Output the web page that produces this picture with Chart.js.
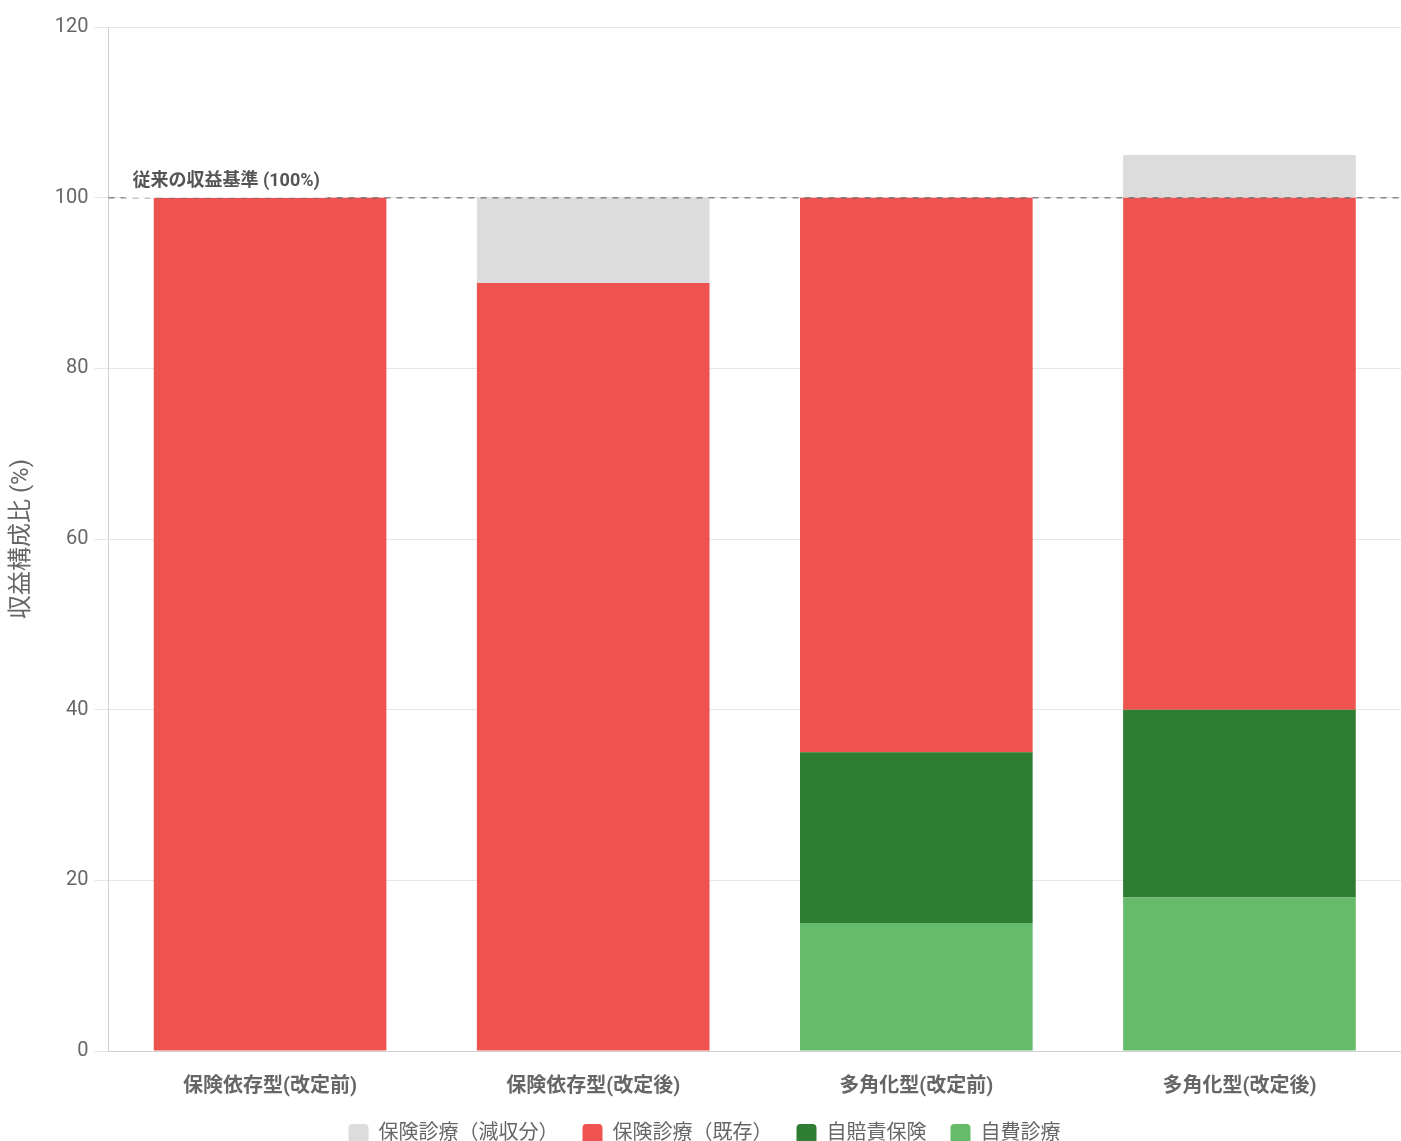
<!DOCTYPE html>
<html>
<head>
<meta charset="utf-8">
<script src="https://cdn.jsdelivr.net/npm/chart.js@4/dist/chart.umd.min.js"></script>
<style>
  html, body { margin: 0; padding: 0; background: #fff; }
  #wrap { width: 1401px; height: 1141px; }
</style>
</head>
<body>
<div id="wrap"><canvas id="revChart"></canvas></div>
<script>
const categories = ['保険依存型(改定前)', '保険依存型(改定後)', '多角化型(改定前)', '多角化型(改定後)'];
const selfPay = [0, 0, 15, 18];        // 自費診療
const autoInsurance = [0, 0, 20, 22];  // 自賠責保険
const insuranceBase = [100, 90, 65, 60]; // 保険診療（既存）
const insuranceLoss = [0, 10, 0, 5];   // 保険診療（減収分）
const yTicks = [0, 20, 40, 60, 80, 100, 120];
const baseline = 100;
const baselineLabel = '従来の収益基準 (100%)';

const FONT = "Roboto, 'Noto Sans CJK JP', sans-serif";

// dashed reference line + label
const baselinePlugin = {
  id: 'baseline',
  afterDatasetsDraw(chart) {
    const { ctx, chartArea } = chart;
    const y = chart.scales.y.getPixelForValue(baseline);
    ctx.save();
    ctx.strokeStyle = 'rgba(110,110,110,0.8)';
    ctx.lineWidth = 1.5;
    ctx.setLineDash([6, 6]);
    ctx.beginPath();
    ctx.moveTo(chartArea.left, y);
    ctx.lineTo(chartArea.right, y);
    ctx.stroke();
    ctx.setLineDash([]);

    ctx.font = "bold 18px " + FONT;
    const w = ctx.measureText(baselineLabel).width;
    const x0 = chartArea.left + 12;
    ctx.fillStyle = '#fff';
    ctx.beginPath();
    ctx.roundRect(x0, y - 31, w + 24, 31, 6);
    ctx.fill();
    ctx.fillStyle = '#555';
    ctx.textBaseline = 'middle';
    ctx.fillText(baselineLabel, x0 + 12, y - 16);
    ctx.restore();
  }
};

// keep the wide gap between legend items but trim the legend's bottom space
const legendTrim = {
  id: 'legendTrim',
  beforeLayout(chart) {
    const lg = chart.legend;
    if (lg && !lg._trimmed) {
      const fit = lg.fit;
      lg.fit = function () { fit.call(this); this.height -= 13; };
      lg._trimmed = true;
    }
  }
};

new Chart(document.getElementById('revChart'), {
  type: 'bar',
  data: {
    labels: categories,
    datasets: [
      { label: '自費診療', data: selfPay, backgroundColor: '#66bb6a' },
      { label: '自賠責保険', data: autoInsurance, backgroundColor: '#2e7d32' },
      { label: '保険診療（既存）', data: insuranceBase, backgroundColor: '#ef5350' },
      { label: '保険診療（減収分）', data: insuranceLoss, backgroundColor: '#dcdcdc' }
    ]
  },
  options: {
    responsive: true,
    maintainAspectRatio: false,
    animation: false,
    layout: { padding: { top: 27, right: 0, left: 8, bottom: 0 } },
    plugins: {
      legend: {
        position: 'bottom',
        reverse: true,
        labels: {
          font: { family: FONT, size: 20 },
          color: '#666',
          boxWidth: 20,
          boxHeight: 20,
          useBorderRadius: true,
          borderRadius: 4,
          padding: 24
        }
      },
      tooltip: { enabled: false }
    },
    scales: {
      x: {
        stacked: true,
        grid: { display: false },
        border: { color: '#d0d0d0' },
        ticks: { font: { family: FONT, size: 20, weight: 'bold' }, color: '#666', padding: 16 },
        afterFit(axis) { axis.height -= 15; }
      },
      y: {
        stacked: true,
        min: 0,
        max: 120,
        afterBuildTicks(axis) { axis.ticks = yTicks.map(v => ({ value: v })); },
        grid: { color: '#e6e6e6', tickLength: 14 },
        border: { color: '#d0d0d0' },
        ticks: { font: { family: FONT, size: 20 }, color: '#666', padding: 6 },
        title: {
          display: true,
          text: '収益構成比 (%)',
          font: { family: FONT, size: 24 },
          color: '#666',
          padding: { top: 0, bottom: 12 }
        }
      }
    }
  },
  plugins: [baselinePlugin, legendTrim]
});
</script>
</body>
</html>
